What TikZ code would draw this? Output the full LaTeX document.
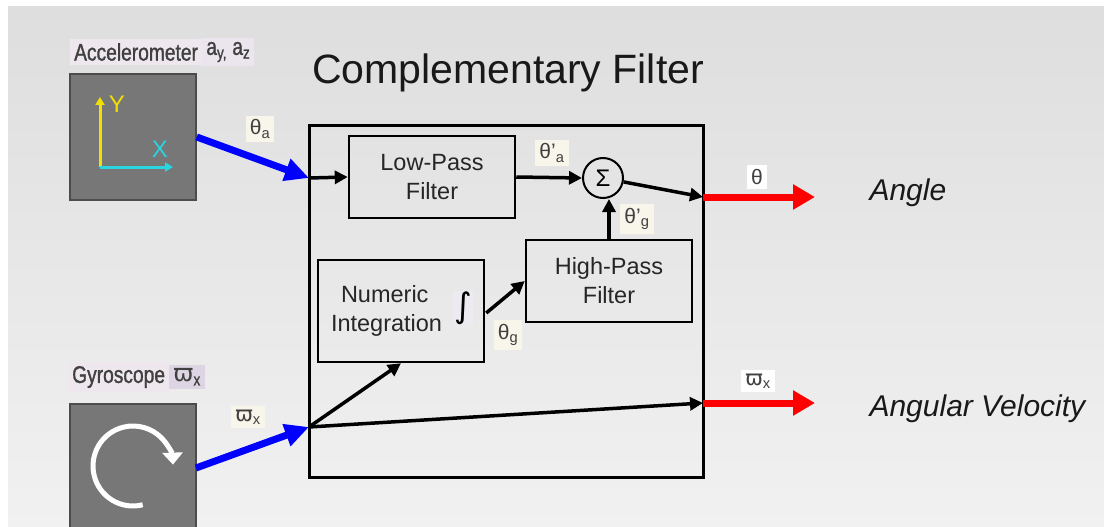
\documentclass[tikz,border=0pt]{standalone}
\usepackage{fontspec}
\setmainfont{Liberation Sans}
\newfontfamily\narrowfont[FakeStretch=0.8,FakeBold=1.2]{Liberation Sans}
\newfontfamily\symfont{DejaVu Sans}
\usetikzlibrary{arrows,arrows.meta,positioning,calc,shapes}
\definecolor{bgtop}{HTML}{DEDEDE}
\definecolor{bgbot}{HTML}{F1F1F1}
\definecolor{sensorgray}{HTML}{777777}
\definecolor{tagbg}{HTML}{F8F5EA}
\definecolor{namebg}{HTML}{EEE8EE}
\definecolor{symbg}{HTML}{DDD5E3}
\definecolor{axisy}{HTML}{F2E000}
\definecolor{axisx}{HTML}{2AD4E0}
\def\varpix{{\symfont ϖ}\textsubscript{x}}

\begin{document}
\begin{tikzpicture}[x=1pt,y=-1pt,
    sensor/.style={draw=black!70,line width=1.5pt,fill=sensorgray,minimum width=126pt,minimum height=126pt},
    block/.style={draw,line width=2.5pt,minimum width=166pt,minimum height=82pt,align=center,font=\fontsize{23.5}{29}\selectfont,text=black!85},
    tag/.style={fill=tagbg,inner sep=4pt,font=\fontsize{21}{23}\selectfont,text=black!75},
    sensorname/.style={fill=namebg,inner sep=4pt,font=\narrowfont\fontsize{24}{26}\selectfont,text=black!75},
    flow/.style={line width=3.5pt,-{Triangle[length=13pt,width=13pt]}},
    feed/.style={line width=7pt,blue,-{Triangle[length=24pt,width=22pt]}},
    result/.style={line width=7pt,red,-{Triangle[length=22pt,width=24pt]}}]
    \useasboundingbox (0,0) rectangle (1104,527);
    \fill[white] (0,0) rectangle (1104,527);
    \shade[top color=bgtop,bottom color=bgbot] (8,7) rectangle (1104,527);

    \node[sensor] (acc) at (133,137) {};
    \node[sensorname,anchor=west] (accname) at (70,52) {Accelerometer};
    \node[sensorname,fill=symbg!60,right=0pt of accname] (accsym) {a\textsubscript{y,} a\textsubscript{z}};
    \coordinate (origin) at (100,167);
    \draw[axisy,line width=3pt,-{Triangle[length=8pt,width=9pt]}] (origin) -- ++(0,-70) node[pos=0.9,right=4pt,font=\fontsize{24}{24}\selectfont] (ylab) {Y};
    \draw[axisx,line width=3pt,-{Triangle[length=8pt,width=9pt]}] (origin) -- ++(73,0) node[pos=0.82,above=5pt,font=\fontsize{24}{24}\selectfont] (xlab) {X};

    \node[sensor,minimum height=124pt] (gyro) at (133,466) {};
    \node[sensorname,anchor=west] (gyroname) at (68,377) {Gyroscope};
    \node[sensorname,fill=symbg,right=0pt of gyroname] (gyrosym) {\varpix};
    \draw[white,line width=5pt,-{Triangle[length=12pt,width=20pt]}] ($(gyro)+(-76:40pt)$) arc[start angle=-76,end angle=-358,radius=40pt];

    \node[font=\fontsize{41}{44}\selectfont,text=black!90] (title) at (508,73) {Complementary Filter};
    \node[draw,line width=3pt,minimum width=394pt,minimum height=352pt] (cf) at (506,301) {};
    \node[block] (lpf) at (432,177) {Low-Pass\\Filter};
    \node[block] (hpf) at (609,281) {High-Pass\\Filter};
    \node[block,minimum height=102pt,text width=140pt,align=left] (ni) at (401,311) {\hspace*{10pt}Numeric\\Integration};
    \node[fill=symbg!50,inner sep=1pt,font=\symfont\fontsize{34}{36}\selectfont] (int) at (463,308) {∫};
    \node[draw,circle,line width=2pt,minimum size=40pt,inner sep=0pt,font=\fontsize{24}{24}\selectfont] (sum) at (603,178) {Σ};

    \coordinate (in1) at (309,178);
    \coordinate (in2) at (309,427);
    \coordinate (out1) at (703,197);
    \coordinate (out2) at (703,403);
    \coordinate (end1) at (815,197);
    \coordinate (end2) at (815,403);

    \draw[feed] (acc.east) -- (in1);
    \draw[feed] (196,468) -- (in2);
    \draw[flow] (in1) -- (lpf.west);
    \draw[flow] (lpf.east) -- (sum.west);
    \draw[flow] (sum) -- (out1);
    \draw[flow] (hpf.north) -- (hpf.north |- sum.south);
    \draw[flow] (ni.east) ++(1,2) -- (hpf.west);
    \draw[flow] (in2) -- (ni.south);
    \draw[flow] (in2) -- (out2);
    \draw[result] (out1) -- (end1);
    \draw[result] (out2) -- (end2);

    \node[tag] (thetaa) at (260,129) {θ\textsubscript{a}};
    \node[tag] (omegain) at (248,417) {\varpix};
    \node[tag] (thetaap) at (552,153) {θ’\textsubscript{a}};
    \node[tag] (thetagp) at (637,219) {θ’\textsubscript{g}};
    \node[tag] (thetag) at (508,335) {θ\textsubscript{g}};
    \node[tag,fill=white] (theta) at (757,177) {θ};
    \node[tag,fill=white] (omegaout) at (758,381) {\varpix};

    \node[anchor=west,font=\itshape\fontsize{30}{32}\selectfont,text=black!90] (angle) at (866,193) {Angle};
    \node[anchor=west,font=\itshape\fontsize{30}{32}\selectfont,text=black!90] (angvel) at (866,409) {Angular Velocity};
\end{tikzpicture}
\end{document}
